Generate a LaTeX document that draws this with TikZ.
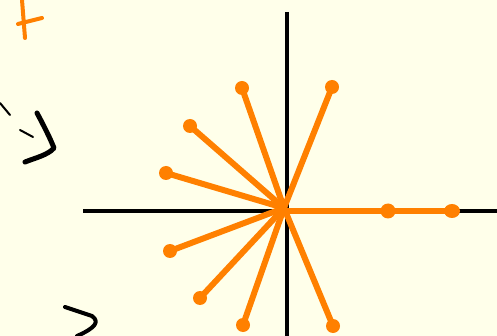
\documentclass[tikz,border=0pt]{standalone}
\begin{document}
\begin{tikzpicture}[x=1pt,y=-1pt,
  ray/.style={draw=orng,line width=6pt,line cap=round},
  axis/.style={draw=black,line width=3.2pt},
  ink/.style={line width=4pt,line cap=round,line join=round}]
\definecolor{orng}{RGB}{255,128,0}
\definecolor{bg}{RGB}{255,255,234}
\fill[bg] (0,0) rectangle (497,336);
\useasboundingbox (0,0) rectangle (497,336);
% axes
\coordinate (xl) at (83,211);
\coordinate (xr) at (497,211);
\coordinate (yt) at (287,12);
\coordinate (yb) at (287,336);
\draw[axis] (xl) -- (xr);
\draw[axis] (yt) -- (yb);
% origin
\coordinate (o) at (284,208);
\foreach \n/\px/\py in {a/332/87, b/242/88, c/190/126, d/166/173,
   e/170/251, f/200/298, g/243/325, h/333/326}{
  \coordinate (\n) at (\px,\py);
  \draw[ray] (o) -- (\n);
  \fill[orng] (\n) circle (7pt);
}
\coordinate (o2) at (284,211);
\coordinate (k) at (452,211);
\draw[ray] (o) -- (o2) -- (k);
\fill[orng] (k) ellipse (8pt and 7pt);
\coordinate (m) at (388,211);
\fill[orng] (m) ellipse (7.5pt and 7.5pt);
% orange f
\coordinate (f1) at (22,0);
\coordinate (f2) at (25,38);
\coordinate (f3) at (18,24);
\coordinate (f4) at (42,18);
\draw[orng,ink,line width=4pt] (f1) -- (f2);
\draw[orng,ink,line width=4pt] (f3) -- (f4);
% left black arrow
\coordinate (l1) at (0,103);
\coordinate (l2) at (10,115);
\coordinate (l3) at (20,130);
\coordinate (l4) at (33,137);
\coordinate (l5) at (37,113);
\coordinate (l6) at (54,148);
\coordinate (l7) at (25,162);
\draw[ink,line width=2pt] (l1) -- (l2);
\draw[ink,line width=2pt] (l3) -- (l4);
\draw[ink,line width=5pt] (l5) .. controls (45,128) and (50,138) .. (l6) .. controls (48,155) and (35,158) .. (l7);
% bottom black arrow
\coordinate (b1) at (65,307);
\coordinate (b2) at (92,316);
\coordinate (b3) at (77,336);
\draw[ink,line width=4pt] (b1) -- (b2) .. controls (100,322) and (95,328) .. (b3);
\end{tikzpicture}
\end{document}
